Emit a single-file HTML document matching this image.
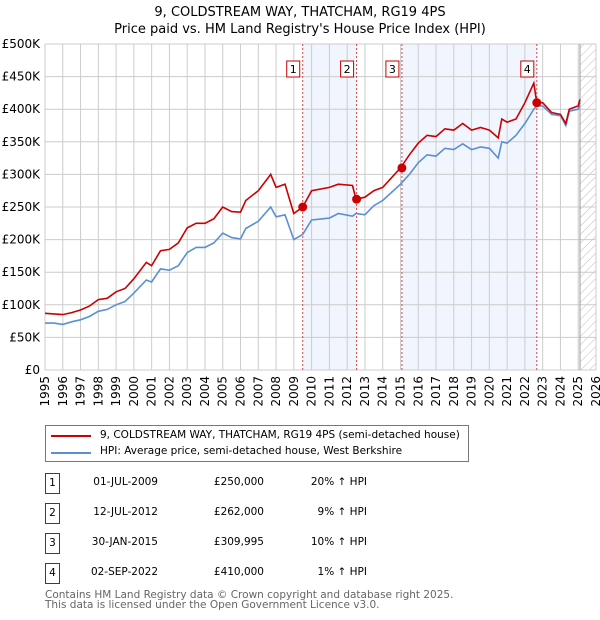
<!DOCTYPE html>
<html><head><meta charset="utf-8"><style>
body{margin:0;background:#fff;font-family:"DejaVu Sans","Liberation Sans",sans-serif;}
#wrap{position:relative;width:600px;height:620px;overflow:hidden}
.t{position:absolute;font-size:10.5px;color:#000;white-space:nowrap}
.box{position:absolute;width:13px;height:19px;border:1px solid #c00;font-size:10.5px;text-align:center;line-height:19px}
</style></head><body><div id="wrap">
<svg id="svg" width="600" height="420" style="position:absolute;left:0;top:0"></svg>
<div style="position:absolute;left:45px;top:425px;width:422px;height:35px;border:1px solid #777">
 <div style="position:absolute;left:5px;top:9px;width:40px;height:2px;background:#c00"></div>
 <div class="t" style="left:54px;top:3px">9, COLDSTREAM WAY, THATCHAM, RG19 4PS (semi-detached house)</div>
 <div style="position:absolute;left:5px;top:26px;width:40px;height:2px;background:#5b8fd4"></div>
 <div class="t" style="left:54px;top:19px">HPI: Average price, semi-detached house, West Berkshire</div>
</div>
<div id="rows"></div>
<div class="t" style="left:45px;top:590px;color:#666;font-size:10.5px;line-height:10px">Contains HM Land Registry data © Crown copyright and database right 2025.<br>This data is licensed under the Open Government Licence v3.0.</div>
</div>
<script>
const years=[1995,1996,1997,1998,1999,2000,2001,2002,2003,2004,2005,2006,2007,2008,2009,2010,2011,2012,2013,2014,2015,2016,2017,2018,2019,2020,2021,2022,2023,2024,2025,2026];
const yTicks=[0,50000,100000,150000,200000,250000,300000,350000,400000,450000,500000];
const yTickLabels=["£0","£50K","£100K","£150K","£200K","£250K","£300K","£350K","£400K","£450K","£500K"];
const seriesT=[1995,1995.5,1996,1996.5,1997,1997.5,1998,1998.5,1999,1999.5,2000,2000.7,2001,2001.5,2002,2002.5,2003,2003.5,2004,2004.5,2005,2005.5,2006,2006.3,2007,2007.7,2008,2008.5,2009,2009.5,2010,2011,2011.5,2012.3,2012.5,2013,2013.5,2014,2015,2015.5,2016,2016.5,2017,2017.5,2018,2018.5,2019,2019.5,2020,2020.5,2020.7,2021,2021.5,2022,2022.5,2022.67,2023,2023.5,2024,2024.3,2024.5,2025,2025.1];
const redVals=[87,86,85,88,92,98,108,110,120,125,140,165,160,183,185,195,218,225,225,232,250,243,242,260,275,300,280,285,240,250,275,280,285,283,262,265,275,280,310,330,348,360,358,370,368,378,368,372,368,356,385,380,385,410,440,410,410,395,392,378,400,405,415];
const hpiVals=[72,72,70,74,77,82,90,93,100,105,118,138,135,155,153,160,180,188,188,195,210,203,201,217,228,250,235,238,200,208,230,233,240,236,240,238,252,260,285,300,318,330,328,340,338,347,338,342,340,325,350,348,360,378,400,405,405,392,390,375,397,400,410];
const saleDates=[2009.5,2012.53,2015.08,2022.67];
const salePrices=[250000,262000,309995,410000];
const saleLabels=["1","2","3","4"];
const saleDateText=["01-JUL-2009","12-JUL-2012","30-JAN-2015","02-SEP-2022"];
const salePriceText=["£250,000","£262,000","£309,995","£410,000"];
const salePctText=["20% ↑ HPI","9% ↑ HPI","10% ↑ HPI","1% ↑ HPI"];
const L=45,R=596,T=44,B=370;
const x=v=>L+(v-1995)/31*(R-L), y=v=>B-v/500000*(B-T);
const NS="http://www.w3.org/2000/svg", svg=document.getElementById('svg');
function mk(tag,attrs,parent){const e=document.createElementNS(NS,tag);for(const k in attrs)e.setAttribute(k,attrs[k]);(parent||svg).appendChild(e);return e;}
let s=mk('rect',{x:x(saleDates[0]),y:T,width:x(saleDates[1])-x(saleDates[0]),height:B-T,fill:'#eef3fc',opacity:0.8});

s=mk('rect',{x:x(saleDates[2]),y:T,width:x(saleDates[3])-x(saleDates[2]),height:B-T,fill:'#eef3fc',opacity:0.8});

const defs=mk('defs',{});const pat=mk('pattern',{id:'h',width:6,height:6,patternUnits:'userSpaceOnUse',patternTransform:'rotate(45)'},defs);
mk('line',{x1:0,y1:0,x2:0,y2:6,stroke:'#bbb','stroke-width':1},pat);
const hx=x(2025.1);
s=mk('rect',{x:hx,y:T,width:R-hx,height:B-T,fill:'url(#h)'});

years.forEach(v=>{const g=mk('line',{x1:x(v),x2:x(v),y1:T,y2:B,stroke:'#ccc'});
 const tx=x(v)+4, ty=376;
 const t=mk('text',{x:tx,y:ty,'text-anchor':'end','font-size':12,'font-family':'DejaVu Sans, sans-serif',transform:'rotate(-90 '+tx+' '+ty+')'});t.textContent=v;});
yTicks.forEach((v,i)=>{const g=mk('line',{x1:L,x2:R,y1:y(v),y2:y(v),stroke:'#ccc'});
 const t=mk('text',{x:40,y:y(v)+4,'text-anchor':'end','font-size':12,'font-family':'DejaVu Sans, sans-serif'});t.textContent=yTickLabels[i];});
mk('line',{x1:hx,x2:hx,y1:T,y2:B,stroke:'#999'});
saleDates.forEach((d,i)=>{const l=mk('line',{x1:x(d),x2:x(d),y1:T,y2:B,stroke:'#e04040','stroke-dasharray':'2,2','stroke-width':1});
 const r=mk('rect',{x:x(d)-16,y:61,width:13,height:16,fill:'#fff',stroke:'#c00'});
 const t=mk('text',{x:x(d)-9.5,y:73,'text-anchor':'middle','font-size':11,'font-family':'DejaVu Sans, sans-serif'});t.textContent=saleLabels[i];});
function pts(v){return seriesT.map((t,i)=>x(t).toFixed(1)+','+y(v[i]*1000).toFixed(1)).join(' ');}
let p=mk('polyline',{points:pts(hpiVals),fill:'none',stroke:'#5b8fd4','stroke-width':1.6});
p=mk('polyline',{points:pts(redVals),fill:'none',stroke:'#c00','stroke-width':1.6});
saleDates.forEach((d,i)=>{const c=mk('circle',{cx:x(d),cy:y(salePrices[i]),r:4.5,fill:'#c00'});});
let tt=mk('text',{x:300,y:16,'text-anchor':'middle','font-size':13,'font-family':'DejaVu Sans, sans-serif'});tt.textContent='9, COLDSTREAM WAY, THATCHAM, RG19 4PS';
tt=mk('text',{x:300,y:33,'text-anchor':'middle','font-size':13,'font-family':'DejaVu Sans, sans-serif'});tt.textContent="Price paid vs. HM Land Registry's House Price Index (HPI)";
const rows=document.getElementById('rows');
saleLabels.forEach((lab,i)=>{const top=476+i*30;
 const add=(html,cls,style,name)=>{const d=document.createElement('div');d.className=cls;d.style.cssText=style;d.textContent=html;
  
  
  rows.appendChild(d);};
 add(lab,'box','left:45px;top:'+(top-3)+'px','sale-row-number');
 add(saleDateText[i],'t','right:'+(600-158)+'px;top:'+top+'px','sale-row-date');
 add(salePriceText[i],'t','right:'+(600-264)+'px;top:'+top+'px','sale-row-price');
 add(salePctText[i],'t','right:'+(600-367)+'px;top:'+top+'px','sale-row-hpi-diff');
});
</script></body></html>
